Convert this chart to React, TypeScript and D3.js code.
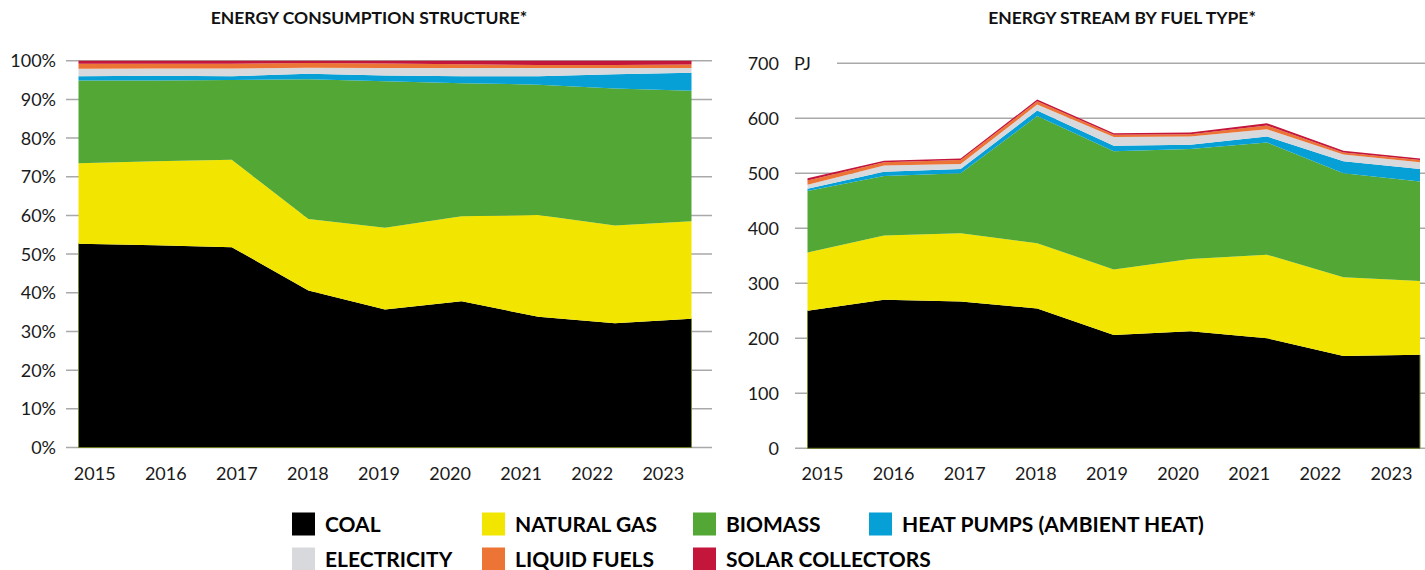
import React from "react";
import * as d3 from "d3";

const years = ["2015", "2016", "2017", "2018", "2019", "2020", "2021", "2022", "2023"];
const seriesKeys = ["coal", "gas", "biomass", "heat", "elec", "liquid", "solar"];
const seriesLabels = [
  "COAL",
  "NATURAL GAS",
  "BIOMASS",
  "HEAT PUMPS (AMBIENT HEAT)",
  "ELECTRICITY",
  "LIQUID FUELS",
  "SOLAR COLLECTORS",
];
const seriesColors = ["#000000", "#f2e600", "#52a735", "#069fd6", "#d8d9dd", "#ec7434", "#c4153a"];

// Share (%) of energy consumption
const shareCoal = [52.7, 52.3, 51.8, 40.6, 35.7, 37.8, 33.8, 32.1, 33.3];
const shareGas = [20.8, 21.7, 22.6, 18.5, 21.1, 22.0, 26.3, 25.3, 25.2];
const shareBiomass = [21.4, 20.9, 20.6, 36.1, 37.9, 34.4, 33.7, 35.4, 33.7];
const shareHeat = [1.1, 1.2, 1.0, 1.4, 1.5, 1.8, 2.2, 3.7, 4.7];
const shareElec = [1.9, 1.9, 2.0, 1.6, 1.9, 2.1, 2.1, 1.6, 1.2];
const shareLiquid = [1.3, 1.2, 1.2, 1.2, 1.2, 1.0, 0.8, 0.8, 0.9];
const shareSolar = [0.8, 0.8, 0.8, 0.6, 0.7, 0.9, 1.1, 1.1, 1.0];

// Energy stream (PJ)
const pjCoal = [250, 270, 267, 254, 206, 213, 200, 168, 170];
const pjGas = [106, 117, 124, 119, 119, 131, 152, 143, 134];
const pjBiomass = [112, 108, 109, 231, 215, 200, 204, 189, 181];
const pjHeat = [4, 8, 8, 10, 10, 8, 11, 22, 23];
const pjElec = [7, 11, 9, 11, 16, 15, 13, 12, 12];
const pjLiquid = [8, 6, 7, 6, 4, 4, 7, 4, 4];
const pjSolar = [4, 3, 3, 3, 3, 3, 4, 3, 3];

const shareTicks = [0, 10, 20, 30, 40, 50, 60, 70, 80, 90, 100];
const pjTicks = [0, 100, 200, 300, 400, 500, 600, 700];

const FONT = "Lato, 'Open Sans', sans-serif";

function buildRows(lists: number[][]) {
  return years.map((y, i) => {
    const r: any = { year: y };
    seriesKeys.forEach((k, j) => (r[k] = lists[j][i]));
    return r;
  });
}

const shareRows = buildRows([shareCoal, shareGas, shareBiomass, shareHeat, shareElec, shareLiquid, shareSolar]);
const pjRows = buildRows([pjCoal, pjGas, pjBiomass, pjHeat, pjElec, pjLiquid, pjSolar]);

function StackChart(props: {
  rows: any[];
  x0: number;
  x1: number;
  yTop: number;
  yBottom: number;
  max: number;
  ticks: number[];
  tickFmt: (v: number) => string;
  tickRight: number;
  gridX0: number;
  gridX1: number;
  labelX0: number;
  labelX1: number;
  title: string;
  titleX: number;
  unit?: string;
}) {
  const { rows, x0, x1, yTop, yBottom, max, ticks } = props;
  const x = d3.scalePoint<string>().domain(years).range([x0, x1]);
  const xl = d3.scalePoint<string>().domain(years).range([props.labelX0, props.labelX1]);
  const y = d3.scaleLinear().domain([0, max]).range([yBottom, yTop]);
  const stack = d3.stack<any>().keys(seriesKeys);
  const layers = stack(rows);
  const area = d3
    .area<any>()
    .x((d) => x(d.data.year) as number)
    .y0((d) => y(d[0]))
    .y1((d) => y(d[1]));
  const first = layers[0][0];
  const last = layers[0][layers[0].length - 1];
  return (
    <g>
      <text
        x={props.titleX}
        y={24}
        textAnchor="middle"
        fontFamily={FONT}
        fontWeight={700}
        fontSize={17.5}
        fill="#111"
      >
        {props.title}
      </text>
      {ticks.map((t) => {
        const isTopUnit = props.unit && t === max;
        return (
          <g key={t}>
            <line
              x1={isTopUnit ? props.gridX0 + 42 : props.gridX0}
              x2={props.gridX1}
              y1={y(t)}
              y2={y(t)}
              stroke="#a9a9a9"
              strokeWidth={1.5}
            />
            <text
              x={props.tickRight}
              y={y(t) + 6.5}
              textAnchor="end"
              fontFamily={FONT}
              fontSize={18}
              fill="#1a1a1a"
            >
              {props.tickFmt(t)}
            </text>
          </g>
        );
      })}
      {props.unit && (
        <text x={props.tickRight + 15} y={y(max) + 6.5} fontFamily={FONT} fontSize={18} fill="#1a1a1a">
          {props.unit}
        </text>
      )}
      {layers.map((layer, i) => (
        <path key={layer.key} d={area(layer) || ""} fill={seriesColors[i]} />
      ))}
      <line x1={x0} x2={x0} y1={y(first[1])} y2={yBottom} stroke="#7a8a2a" strokeWidth={1} />
      <line x1={x1} x2={x1} y1={y(last[1])} y2={yBottom} stroke="#7a8a2a" strokeWidth={1} />
      <line x1={x0} x2={x1} y1={yBottom} y2={yBottom} stroke="#6b7a20" strokeWidth={1} />
      {years.map((yr) => (
        <text
          key={yr}
          x={xl(yr)}
          y={480}
          textAnchor="middle"
          fontFamily={FONT}
          fontSize={18}
          fill="#1a1a1a"
        >
          {yr}
        </text>
      ))}
    </g>
  );
}

export default function App() {
  const legendCols = [292, 482, 693, 869];
  const legendRows = [524, 559];
  return (
    <div style={{ position: "fixed", left: 0, top: 0, width: 1425, height: 570, background: "#fff" }}>
      <svg width={1425} height={570} style={{ display: "block" }}>
        <StackChart
          rows={shareRows}
          x0={78.5}
          x1={691.5}
          yTop={60.7}
          yBottom={447.5}
          max={100}
          ticks={shareTicks}
          tickFmt={(v) => `${v}%`}
          tickRight={56}
          gridX0={66}
          gridX1={712}
          labelX0={94.7}
          labelX1={663.3}
          title="ENERGY CONSUMPTION STRUCTURE*"
          titleX={369}
        />
        <StackChart
          rows={pjRows}
          x0={807.5}
          x1={1420}
          yTop={63.3}
          yBottom={448.3}
          max={700}
          ticks={pjTicks}
          tickFmt={(v) => `${v}`}
          tickRight={779}
          gridX0={795}
          gridX1={1425}
          labelX0={822.5}
          labelX1={1391.5}
          title="ENERGY STREAM BY FUEL TYPE*"
          titleX={1122}
          unit="PJ"
        />
        {seriesLabels.map((lab, i) => {
          const row = i < 4 ? 0 : 1;
          const col = i < 4 ? i : i - 4;
          const cx = legendCols[col];
          const cy = legendRows[row];
          return (
            <g key={lab}>
              <rect x={cx} y={cy - 11.5} width={23} height={23} fill={seriesColors[i]} />
              <text
                x={cx + 33}
                y={cy + 7.5}
                fontFamily={FONT}
                fontWeight={700}
                fontSize={21}
                fill="#000"
              >
                {lab}
              </text>
            </g>
          );
        })}
      </svg>
    </div>
  );
}
